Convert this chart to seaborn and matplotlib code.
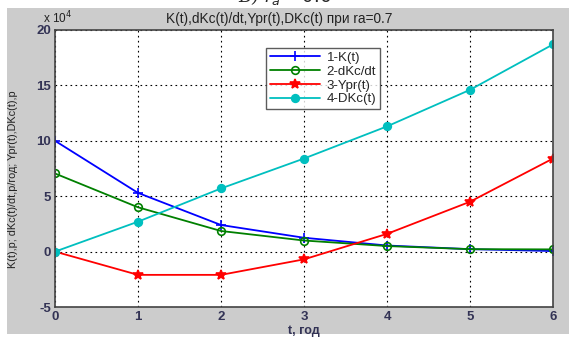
import matplotlib
matplotlib.use("Agg")
import matplotlib.pyplot as plt
import seaborn as sns
import pandas as pd
from matplotlib.patches import Rectangle

# values in units of 1e4
t = [0, 1, 2, 3, 4, 5, 6]
k_t = [10.0, 5.3, 2.4, 1.25, 0.55, 0.22, 0.05]
dkc_dt = [7.05, 4.0, 1.86, 1.0, 0.5, 0.22, 0.2]
ypr_t = [0.0, -2.1, -2.1, -0.7, 1.6, 4.5, 8.4]
dkc_t = [0.0, 2.7, 5.7, 8.4, 11.3, 14.6, 18.7]

labels = ["1-K(t)", "2-dKc/dt", "3-Ypr(t)", "4-DKc(t)"]
colors = ["#0000ff", "#008000", "#ff0000", "#00bfbf"]
markers = ["+", "o", "*", "o"]
msizes = [6.5, 5.5, 7, 5.5]

df = pd.DataFrame({"t": t, labels[0]: k_t, labels[1]: dkc_dt,
                   labels[2]: ypr_t, labels[3]: dkc_t})

sns.set_style("white")
plt.rcParams["font.family"] = ["Liberation Sans", "DejaVu Sans"]
plt.rcParams["axes.unicode_minus"] = False

fig = plt.figure(figsize=(5.69, 3.37), dpi=100)
fig.patch.set_facecolor("white")
fig.patches.append(Rectangle((7 / 569, 3 / 337), 562 / 569, 326 / 337,
                             transform=fig.transFigure, facecolor="#cccccc",
                             edgecolor="none", zorder=-5))
# caption of the figure above, cut by the crop
fig.text(0.5, 1.012, "Б) $r_a = 0.6$", ha="center", va="center",
         fontsize=13, style="italic", family="DejaVu Serif")

ax = fig.add_axes([55 / 569, 30 / 337, 498 / 569, 277 / 337])
ax.set_facecolor("white")

for name, c, m, ms in zip(labels, colors, markers, msizes):
    filled = name.startswith("4")
    sns.lineplot(data=df, x="t", y=name, ax=ax, color=c, marker=m,
                 markersize=ms, linewidth=1.3,
                 markerfacecolor=c if (filled or m == "*") else "none",
                 markeredgecolor=c, markeredgewidth=1.2, label=name)

ax.set_xlim(0, 6)
ax.set_ylim(-5, 20)
ax.set_xticks(range(0, 7))
ax.set_yticks([-5, 0, 5, 10, 15, 20])
ax.grid(True, color="black", linestyle=(0, (1.5, 3)), linewidth=0.8)
ax.tick_params(direction="in", length=4, labelsize=9.5, colors="#333333",
               pad=3)
for lab in ax.get_xticklabels() + ax.get_yticklabels():
    lab.set_fontweight("bold")
    lab.set_color("#333355")
for s in ax.spines.values():
    s.set_color("#444444")
    s.set_linewidth(1.2)

ax.set_title("K(t),dKc(t)/dt,Ypr(t),DKc(t) при ra=0.7", fontsize=9.8,
             pad=5, color="#222222", x=0.45)
ax.set_xlabel("t, год", fontsize=9, fontweight="bold", labelpad=1,
              color="#333355")
ax.set_ylabel("K(t),р; dKc(t)/dt,р/год; Ypr(t),DKc(t),р", fontsize=7.8,
              color="#222222")
ax.yaxis.set_label_coords(-0.075, 0.46)
ax.text(-0.025, 1.015, "x 10$^4$", transform=ax.transAxes, fontsize=8.5,
        ha="left", va="bottom", color="#222222")

leg = ax.legend(loc="upper left", bbox_to_anchor=(0.41, 0.96), fontsize=9.5,
                frameon=True, fancybox=False, borderpad=0.3, labelspacing=0.12,
                handlelength=3.8, handletextpad=0.5)
leg.get_frame().set_edgecolor("#333333")
leg.get_frame().set_linewidth(1.0)

fig.savefig("out.png", dpi=100)
